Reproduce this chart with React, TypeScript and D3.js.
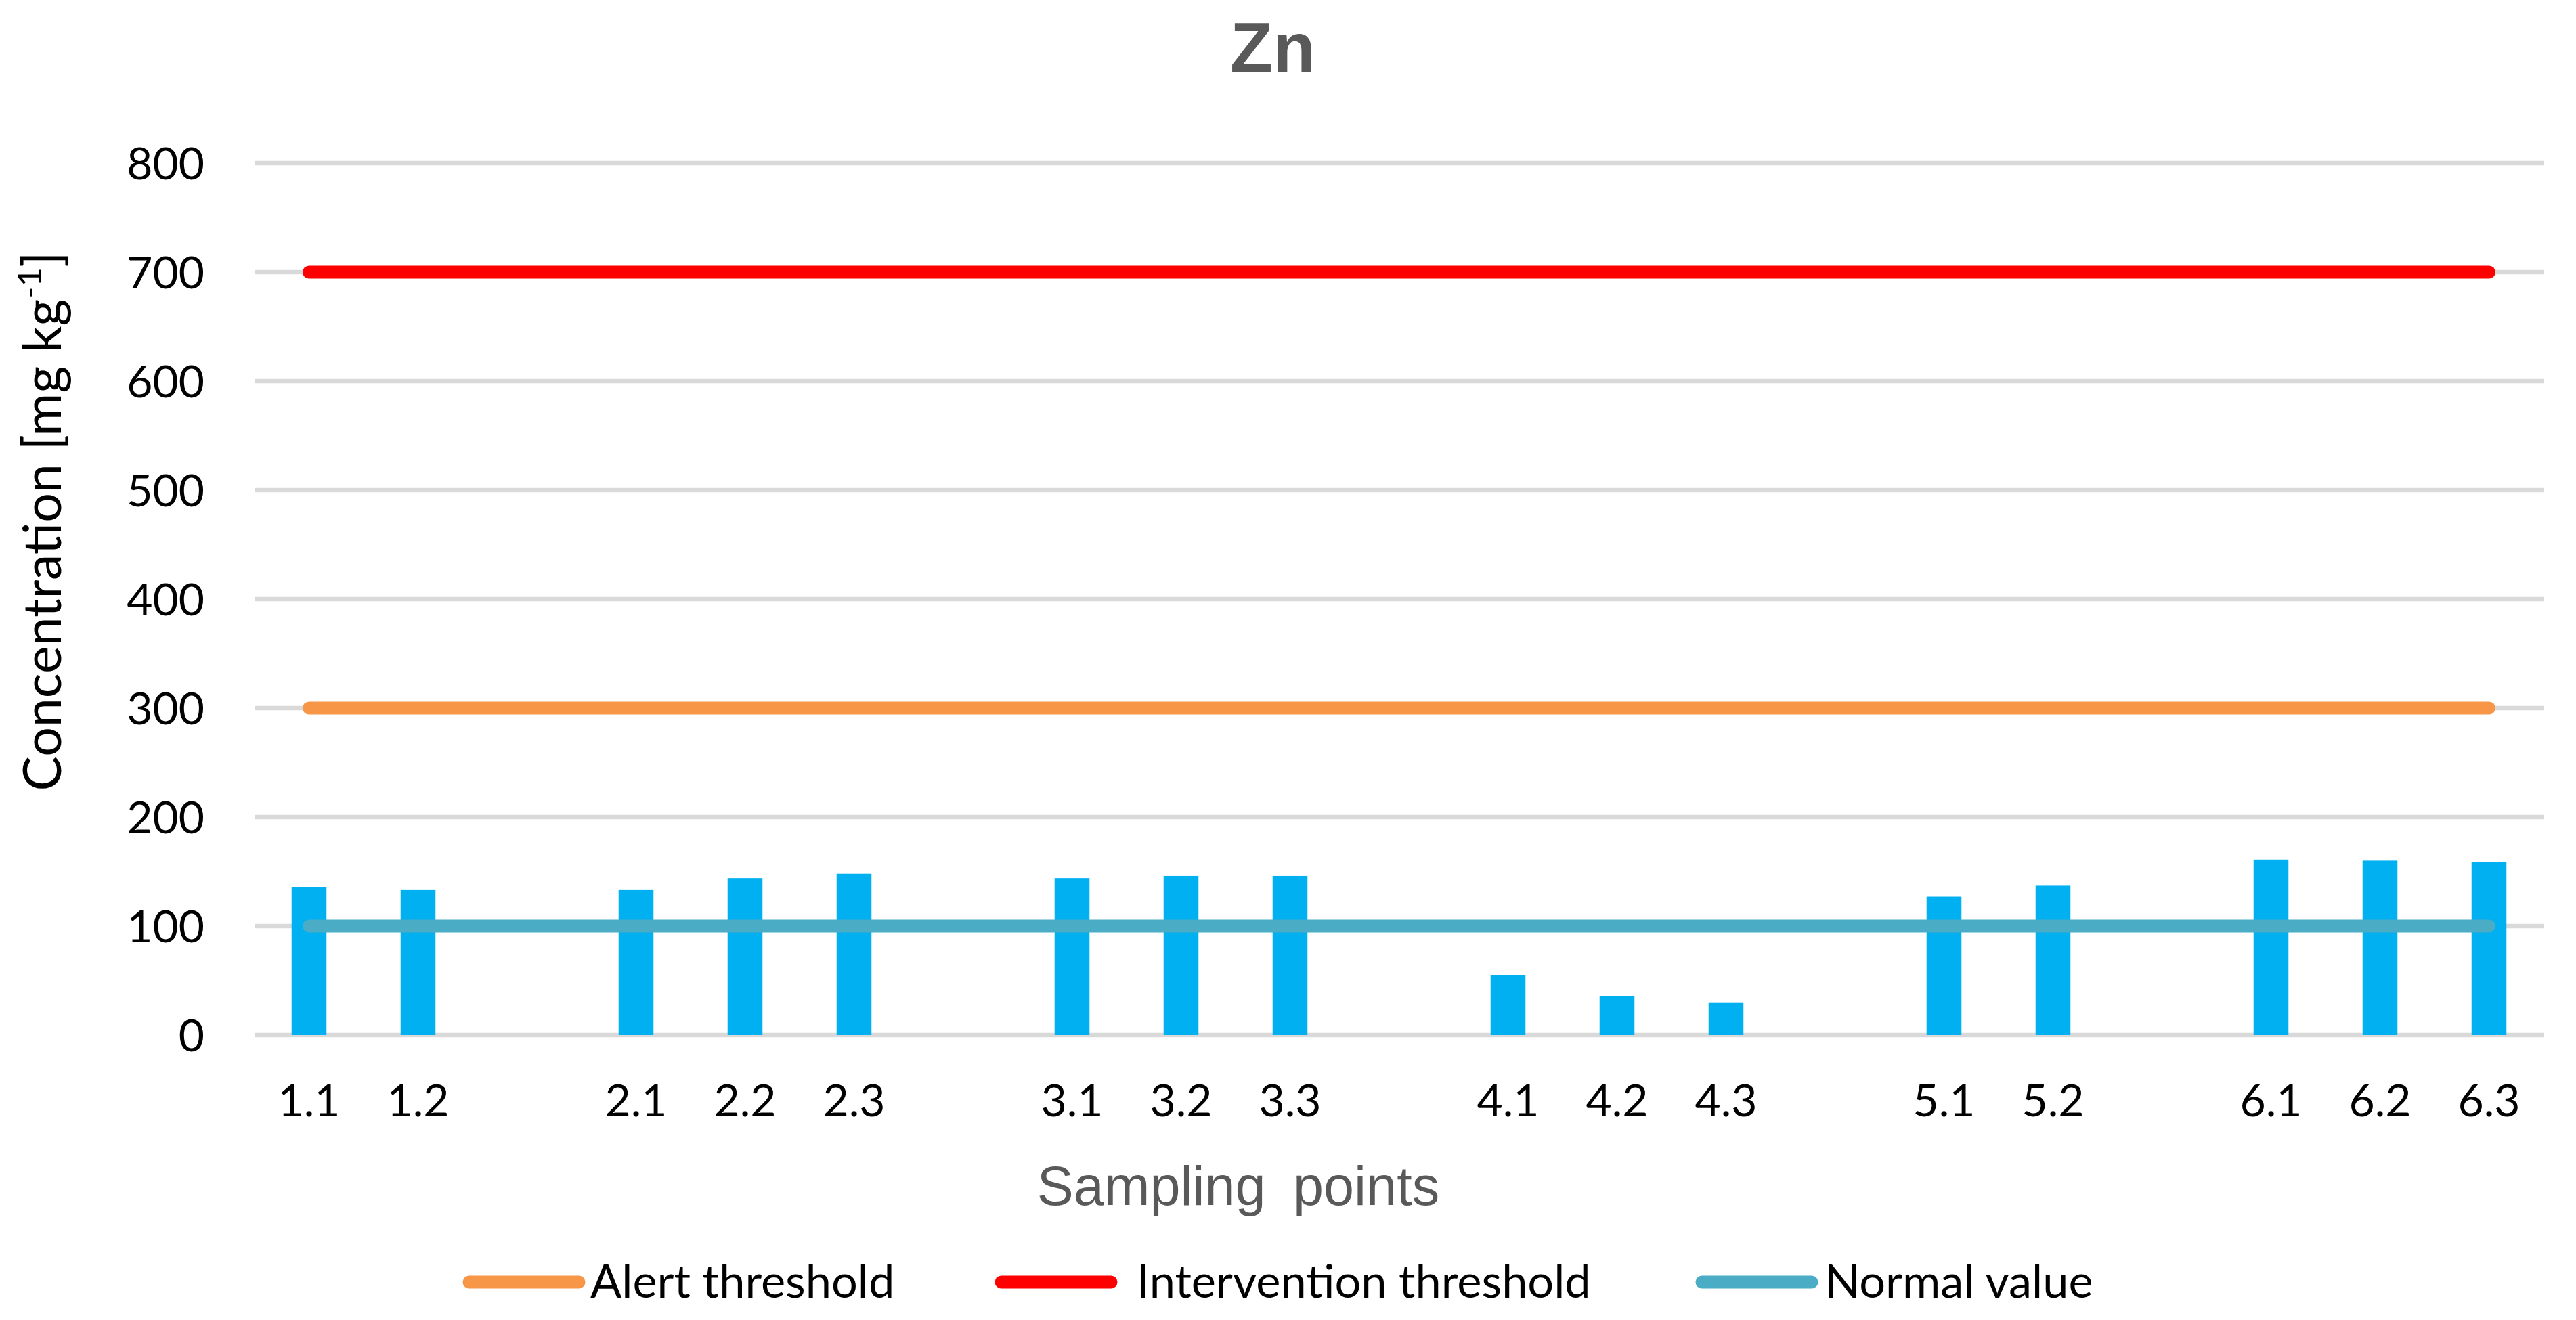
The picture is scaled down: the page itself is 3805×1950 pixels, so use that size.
import React from "react";
import * as d3 from "d3";

const categories = ["1.1", "1.2", "", "2.1", "2.2", "2.3", "", "3.1", "3.2", "3.3", "", "4.1", "4.2", "4.3", "", "5.1", "5.2", "", "6.1", "6.2", "6.3"];
const znValues: (number | null)[] = [136, 133, null, 133, 144, 148, null, 144, 146, 146, null, 55, 36, 30, null, 127, 137, null, 161, 160, 159];
const alertValues = [300, 300, 300, 300, 300, 300, 300, 300, 300, 300, 300, 300, 300, 300, 300, 300, 300, 300, 300, 300, 300];
const interventionValues = [700, 700, 700, 700, 700, 700, 700, 700, 700, 700, 700, 700, 700, 700, 700, 700, 700, 700, 700, 700, 700];
const normalValues = [100, 100, 100, 100, 100, 100, 100, 100, 100, 100, 100, 100, 100, 100, 100, 100, 100, 100, 100, 100, 100];
const yTicks = [0, 100, 200, 300, 400, 500, 600, 700, 800];

const lineSeries = [
  { name: "Alert threshold", values: alertValues, color: "#F79646" },
  { name: "Intervention threshold", values: interventionValues, color: "#FF0000" },
  { name: "Normal value", values: normalValues, color: "#4BACC6" },
];

const W = 3805;
const H = 1950;
const plotLeft = 376;
const plotRight = 3757;
const tickFont = "Lato, 'Open Sans', sans-serif";

export default function App() {
  const idx = categories.map((_, i) => i);
  const x = d3.scalePoint<number>().domain(idx).range([plotLeft, plotRight]).padding(0.5);
  const step = x.step();
  const barW = step * 0.32;
  const y = d3.scaleLinear().domain([0, 800]).range([1529, 241]);

  const line = d3
    .line<number>()
    .x((_, i) => x(i) as number)
    .y((d) => y(d));

  const legendItems = [
    { s: lineSeries[0], x0: 693, x1: 855, tx: 872 },
    { s: lineSeries[1], x0: 1479, x1: 1641, tx: 1679 },
    { s: lineSeries[2], x0: 2514, x1: 2676, tx: 2695 },
  ];

  return (
    <svg width={W} height={H} style={{ position: "absolute", left: 0, top: 0, background: "#fff" }}>
      <rect x={0} y={0} width={W} height={H} fill="#fff" />
      {/* title */}
      <text x={1880} y={106} textAnchor="middle" fontFamily="'Liberation Sans', Arial, sans-serif" fontWeight="bold" fontSize={103} fill="#595959">
        Zn
      </text>
      {/* gridlines */}
      {yTicks.map((t) => (
        <line key={t} x1={plotLeft} x2={plotRight} y1={y(t)} y2={y(t)} stroke="#D9D9D9" strokeWidth={6.5} />
      ))}
      {/* y tick labels */}
      {yTicks.map((t) => (
        <text key={"l" + t} x={302} y={y(t) + 24} textAnchor="end" fontFamily={tickFont} fontSize={66} fill="#000">
          {t}
        </text>
      ))}
      {/* bars */}
      {znValues.map((v, i) =>
        v == null ? null : (
          <rect key={"b" + i} x={(x(i) as number) - barW / 2} y={y(v)} width={barW} height={y(0) - y(v)} fill="#00B0F0" />
        )
      )}
      {/* threshold lines */}
      {lineSeries.map((s) => (
        <path key={s.name} d={line(s.values) || ""} fill="none" stroke={s.color} strokeWidth={19} strokeLinecap="round" />
      ))}
      {/* x tick labels */}
      {categories.map((c, i) =>
        c ? (
          <text key={"x" + i} x={x(i) as number} y={1649} textAnchor="middle" fontFamily={tickFont} fontSize={66} fill="#000">
            {c}
          </text>
        ) : null
      )}
      {/* x axis title */}
      <text x={1829} y={1780} textAnchor="middle" fontFamily="'Liberation Sans', Arial, sans-serif" fontSize={81} fill="#595959" wordSpacing={18}>
        Sampling points
      </text>
      {/* y axis title */}
      <text transform="translate(90,770) rotate(-90)" textAnchor="middle" fontFamily={tickFont} fontSize={77} fill="#000">
        Concentration [mg kg
        <tspan fontSize={49} dy={-29}>-1</tspan>
        <tspan dy={29}>]</tspan>
      </text>
      {/* legend */}
      {legendItems.map((it) => (
        <g key={it.s.name}>
          <line x1={it.x0} x2={it.x1} y1={1894} y2={1894} stroke={it.s.color} strokeWidth={19} strokeLinecap="round" />
          <text x={it.tx} y={1917} fontFamily={tickFont} fontSize={68.5} fill="#000">
            {it.s.name}
          </text>
        </g>
      ))}
    </svg>
  );
}
